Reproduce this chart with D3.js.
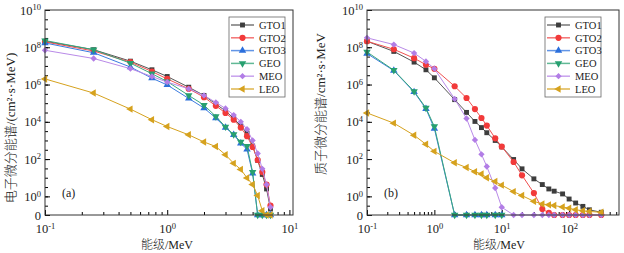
<!DOCTYPE html>
<html>
<head>
<meta charset="utf-8">
<script src="https://cdn.jsdelivr.net/npm/d3@7"></script>
<style>
body { margin: 0; background: #fff; }
text { font-family: "Liberation Serif", "Noto Sans CJK SC", serif; fill: #222; }
</style>
</head>
<body>
<script>
const width = 624;
const height = 253;

const seriesNames = ["GTO1", "GTO2", "GTO3", "GEO", "MEO", "LEO"];

// (a) electrons
const eEnergy = [0.1, 0.25, 0.5, 0.75, 1, 1.5, 2, 2.5, 3, 3.5, 4, 4.5, 5, 5.5, 6, 6.5, 7];
const eGTO1 = [2.1e8, 7.4e7, 1.8e7, 6.2e6, 2.7e6, 7.2e5, 2.6e5, 8.9e4, 3.9e4, 1.5e4, 6.0e3, 2.5e3, 5.0e2, 85, 15, 2.5, 0.21];
const eGTO2 = [1.95e8, 6.3e7, 1.6e7, 5.0e6, 2.0e6, 5.9e5, 2.1e5, 7.2e4, 3.0e4, 1.3e4, 4.9e3, 1.7e3, 4.5e2, 89, 20, 4.3, 0.32];
const eGTO3 = [1.7e8, 5.1e7, 8.7e6, 2.2e6, 9.5e5, 1.8e5, 5.5e4, 1.6e4, 4.9e3, 2.0e3, 7.1e2, 3.3e2, 17, 0, 0, 0, 0];
const eGEO = [2.3e8, 7.4e7, 1.4e7, 3.8e6, 1.45e6, 2.6e5, 7.9e4, 1.95e4, 5.4e3, 2.1e3, 8.3e2, 5.0e2, 20, 0, 0, 0, 0];
const eMEO = [6.9e7, 2.5e7, 7.1e6, 2.7e6, 1.35e6, 5.9e5, 2.6e5, 1.1e5, 5.2e4, 2.3e4, 1.0e4, 4.0e3, 1.0e3, 2.0e2, 30, 4.3, 0.26];
const eLEO = [2.0e6, 3.5e5, 4.8e4, 1.3e4, 5.6e3, 2.0e3, 8.3e2, 4.7e2, 1.7e2, 59, 28, 9.8, 4.3, 1.1, 0.17, 0, 0];

// (b) protons
const pEnergy = [0.1, 0.25, 0.5, 0.75, 1, 2, 3, 4, 5, 6, 8, 10, 15, 20, 30, 40, 50, 60, 80, 100, 125, 160, 200, 300];
const pGTO1 = [2.1e8, 6.0e7, 1.6e7, 6.2e6, 2.3e6, 1.55e5, 3.2e4, 1.05e4, 4.9e3, 2.6e3, 1.0e3, 4.5e2, 95, 30, 8.7, 4.3, 2.5, 1.9, 1.35, 0.72, 0.44, 0.29, 0.19, 0.14];
const pGTO2 = [2.1e8, 7.8e7, 2.6e7, 1.15e7, 7.0e6, 8.1e5, 1.9e5, 4.8e4, 1.6e4, 6.3e3, 1.3e3, 4.7e2, 70, 13.5, 1.5, 0.21, 0.13, 0, 0, 0, 0, 0, 0, 0];
const pGTO3 = [4.6e7, 5.6e6, 4.0e5, 5.0e4, 4.3e3, 0, 0, 0, 0, 0, 0, 0];
const pGEO = [5.6e7, 5.9e6, 4.3e5, 5.5e4, 5.6e3, 0, 0, 0, 0, 0, 0, 0];
const pMEO = [3.2e8, 1.4e8, 4.9e7, 1.75e7, 7.1e6, 1.7e5, 1.5e4, 1.07e3, 1.8e2, 40, 2.8, 0.26, 0, 0, 0, 0, 0, 0, 0, 0, 0, 0, 0, 0];
const pLEO = [3.0e4, 8.5e3, 1.9e3, 6.2e2, 2.6e2, 63, 35, 21, 16, 10, 6.2, 4.0, 1.8, 1.1, 0.54, 0.39, 0.35, 0.32, 0.27, 0.23, 0.19, 0.17, 0.155, 0.14];

const colors = ["#3d3d3d", "#f23a3a", "#2b6fdc", "#27a070", "#b27de6", "#d6a21e"];
const lineColors = ["#555555", "#f05050", "#3b7be0", "#3aa87c", "#b98ae8", "#d6a21e"];

const svg = d3.select("body").append("svg")
    .attr("width", width)
    .attr("height", height);

// marker shapes: square, circle, up, down, diamond, left
function marker(g, idx, x, y) {
    const shapes = [d3.symbolSquare, d3.symbolCircle, d3.symbolTriangle, d3.symbolTriangle, d3.symbolSquare, d3.symbolTriangle];
    const rot = [0, 0, 0, 180, 45, -90];
    const sizes = [24, 30, 24, 24, 20, 24];
    g.append("path")
        .attr("d", d3.symbol().type(shapes[idx]).size(sizes[idx])())
        .attr("transform", "translate(" + x + "," + y + ") rotate(" + rot[idx] + ")")
        .attr("fill", colors[idx]);
}

function supLabel(sel, base, exp) {
    sel.text(null);
    sel.append("tspan").text(base);
    sel.append("tspan").attr("dy", "-0.5em").attr("font-size", "8.5px").text(exp);
}

const y0 = 215, y1 = 10;

function drawPanel(p) {
    const g = svg.append("g");
    const x = d3.scaleLog().domain(p.xDomain).range([p.left, p.right]);
    const y = d3.scaleLog().domain([0.1, 1e10]).range([y0, y1]);
    const yv = (v) => v > 0.1 ? y(v) : y(0.1);

    // minor x ticks
    const minorX = [];
    for (let k = -1; k < 3; k++) {
        for (let m = 2; m < 10; m++) {
            const v = m * Math.pow(10, k);
            if (v < p.xDomain[1]) minorX.push(v);
        }
    }
    g.append("g")
        .attr("transform", "translate(0," + y0 + ")")
        .call(d3.axisBottom(x).tickValues(minorX).tickSize(-3).tickSizeOuter(0).tickFormat(""))
        .call(a => a.select(".domain").remove());

    const xAxis = g.append("g")
        .attr("transform", "translate(0," + y0 + ")")
        .call(d3.axisBottom(x).tickValues(p.xTicks).tickSize(-5).tickSizeOuter(0).tickPadding(9));
    xAxis.select(".domain").remove();
    xAxis.selectAll("text")
        .attr("font-size", "12.5px")
        .each(function (d) { supLabel(d3.select(this), "10", String(Math.round(Math.log10(d)))); });

    // y ticks: minor every half decade
    const minorY = [];
    for (let k = -1; k < 10; k += 0.5) minorY.push(Math.pow(10, k));
    g.append("g")
        .attr("transform", "translate(" + p.left + ",0)")
        .call(d3.axisLeft(y).tickValues(minorY).tickSize(-3).tickSizeOuter(0).tickFormat(""))
        .call(a => a.select(".domain").remove());

    const yAxis = g.append("g")
        .attr("transform", "translate(" + p.left + ",0)")
        .call(d3.axisLeft(y).tickValues(yTicks).tickSize(-5).tickSizeOuter(0).tickPadding(4));
    yAxis.select(".domain").remove();
    yAxis.selectAll("text")
        .attr("font-size", "12.5px")
        .each(function (d) {
            if (d < 1) d3.select(this).text("0");
            else supLabel(d3.select(this), "10", String(Math.round(Math.log10(d))));
        });

    // series
    const line = d3.line()
        .x((d) => x(d[0]))
        .y((d) => yv(d[1]));
    p.series.forEach((vals, idx) => {
        const pts = vals.map((v, i) => [p.energy[i], v]);
        g.append("path")
            .attr("d", line(pts))
            .attr("fill", "none")
            .attr("stroke", lineColors[idx])
            .attr("stroke-width", 1);
        pts.forEach(d => marker(g, idx, x(d[0]), yv(d[1])));
    });

    // frame
    g.append("rect")
        .attr("x", p.left).attr("y", y1)
        .attr("width", p.right - p.left).attr("height", y0 - y1)
        .attr("fill", "none")
        .attr("stroke", "#333")
        .attr("stroke-width", 1);

    // legend
    const lg = g.append("g");
    lg.append("rect")
        .attr("x", p.legend[0]).attr("y", 17)
        .attr("width", p.legend[1]).attr("height", 80)
        .attr("fill", "#fff")
        .attr("stroke", "#666")
        .attr("stroke-width", 0.8);
    seriesNames.forEach((name, idx) => {
        const ly = 25 + idx * 12.8;
        lg.append("line")
            .attr("x1", p.legend[0] + 2).attr("x2", p.legend[0] + 25)
            .attr("y1", ly).attr("y2", ly)
            .attr("stroke", lineColors[idx])
            .attr("stroke-opacity", 0.8)
            .attr("stroke-width", 1.5);
        marker(lg, idx, p.legend[0] + 13.5, ly);
        lg.append("text")
            .attr("x", p.legend[0] + 30).attr("y", ly + 3.8)
            .attr("font-size", "10.5px")
            .text(name);
    });

    g.append("text")
        .attr("x", p.left + 17).attr("y", 197)
        .attr("font-size", "12px")
        .text(p.tag);

    g.append("text")
        .attr("x", p.xLabelX).attr("y", 249)
        .attr("text-anchor", "middle")
        .attr("font-size", "12px")
        .attr("font-weight", 300)
        .text("能级/MeV");

    g.append("text")
        .attr("transform", "translate(" + p.yLabel[0] + "," + p.yLabel[1] + ") rotate(-90)")
        .attr("text-anchor", "middle")
        .attr("dy", "0.35em")
        .attr("font-size", "13px")
        .attr("font-weight", 300)
        .text(p.yTitle);
}

const yTicks = [0.1, 1, 1e2, 1e4, 1e6, 1e8, 1e10];

drawPanel({
    left: 45, right: 293, xDomain: [0.1, 10.7], xTicks: [0.1, 1, 10],
    energy: eEnergy, series: [eGTO1, eGTO2, eGTO3, eGEO, eMEO, eLEO],
    legend: [229, 56], tag: "(a)", xLabelX: 167,
    yLabel: [10, 128], yTitle: "电子微分能谱/(cm²·s·MeV)"
});

drawPanel({
    left: 367, right: 619, xDomain: [0.1, 550], xTicks: [0.1, 1, 10, 100],
    energy: pEnergy, series: [pGTO1, pGTO2, pGTO3, pGEO, pMEO, pLEO],
    legend: [545, 56], tag: "(b)", xLabelX: 499,
    yLabel: [320, 104], yTitle: "质子微分能谱/cm²·s·MeV"
});
</script>
</body>
</html>
